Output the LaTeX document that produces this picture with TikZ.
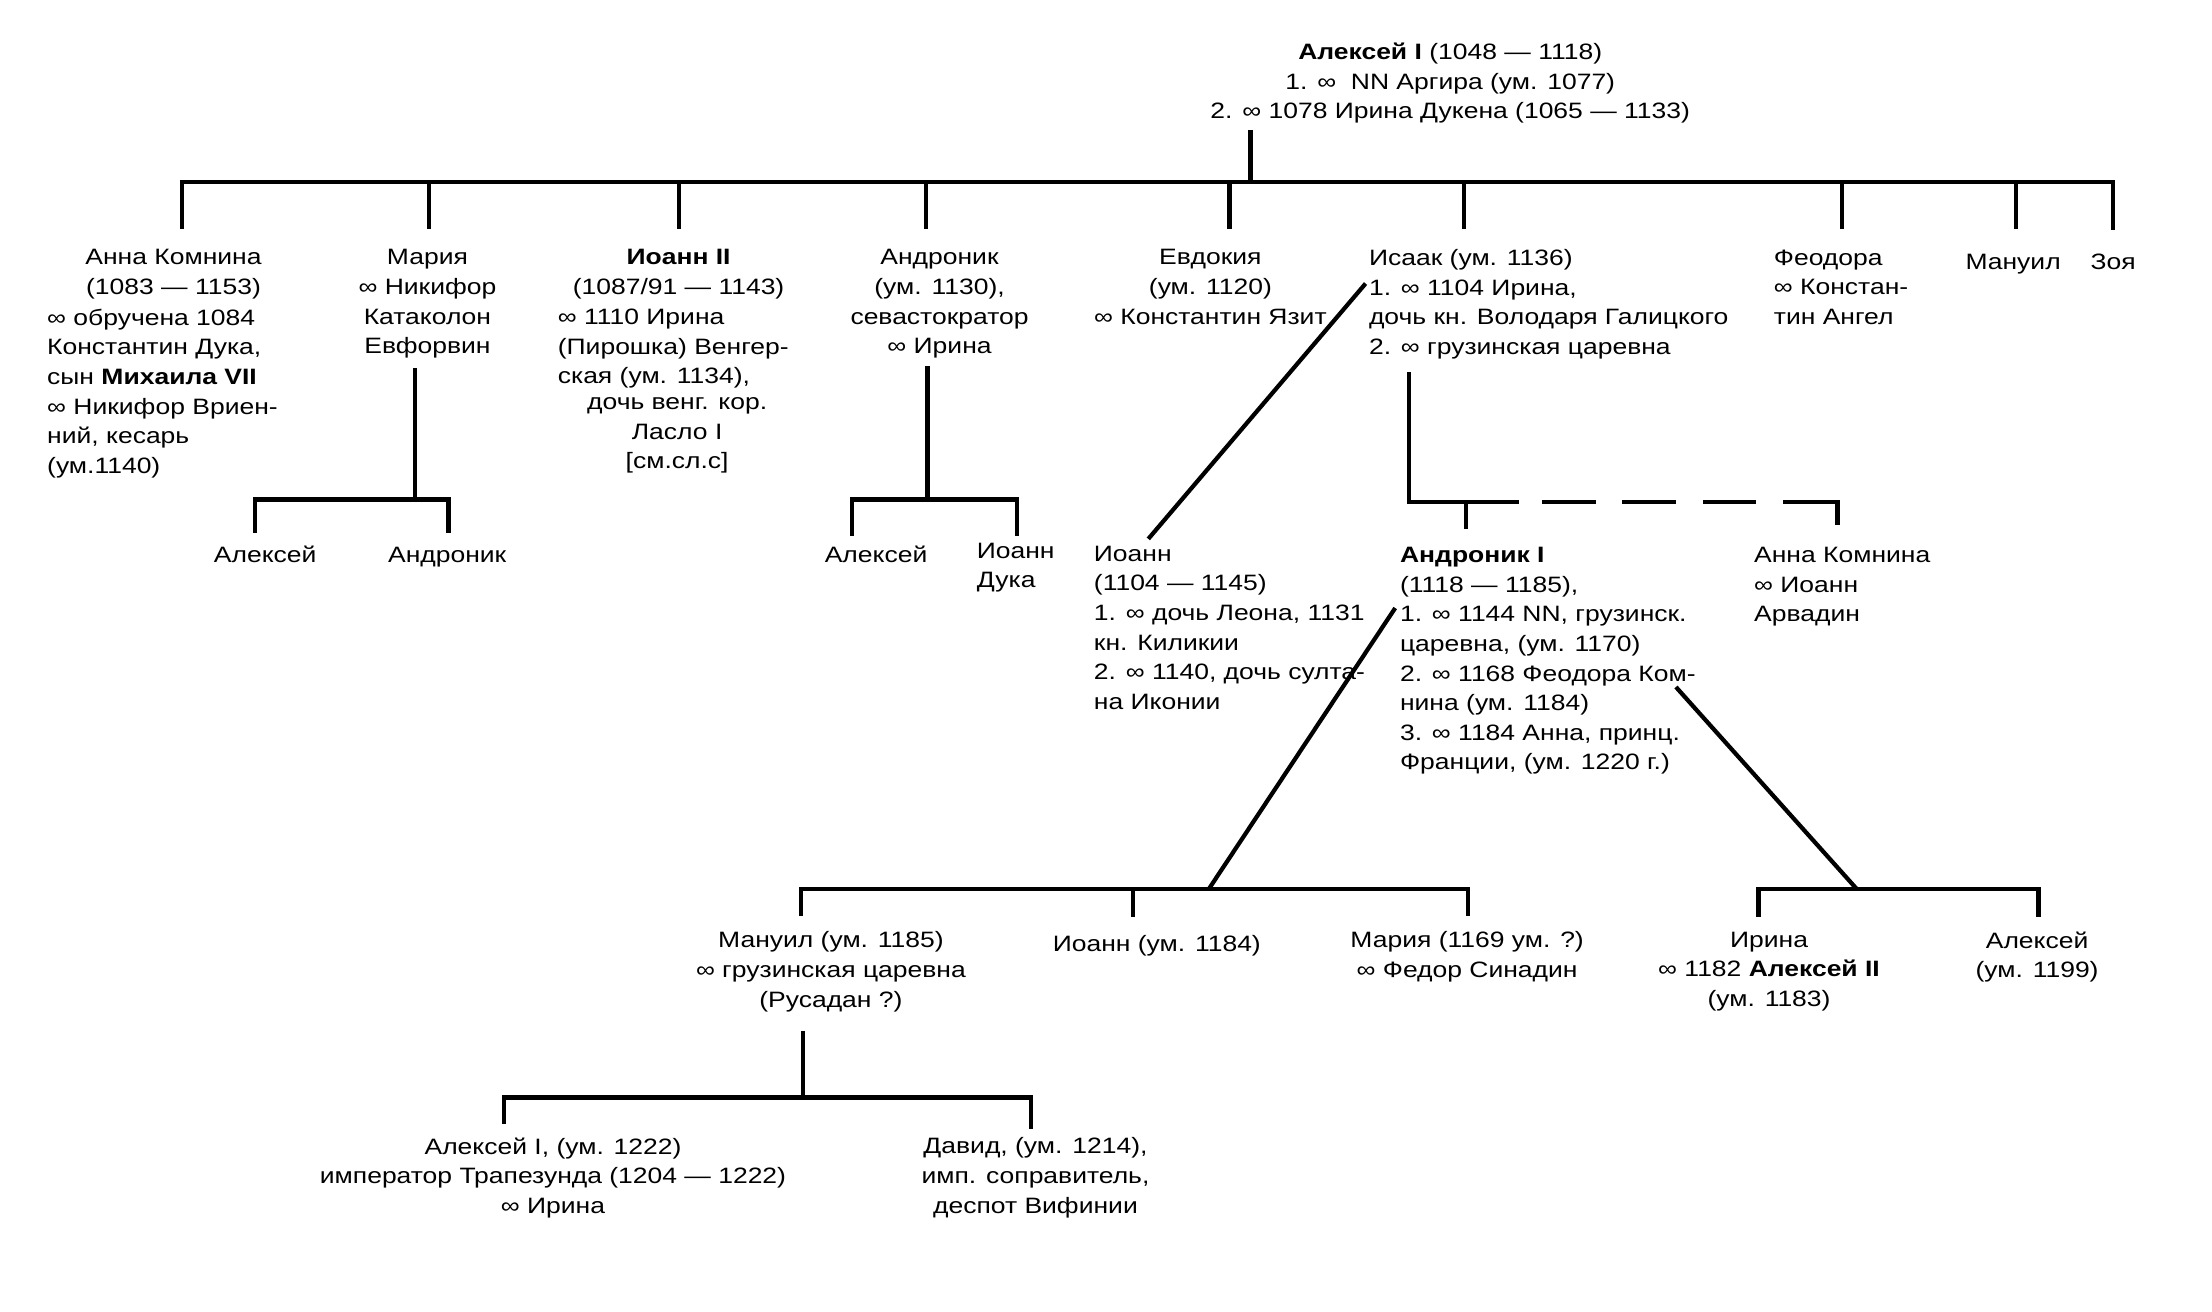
\documentclass[tikz,border=0pt]{standalone}
\usepackage{fontspec}
\setmainfont{Liberation Sans}[FakeStretch=1.19]
\tikzset{
  lbl/.style={inner sep=0pt, font=\fontsize{7.1pt}{9.45pt}\selectfont,
    execute at begin node={\rule{0pt}{6.3pt}}},
  cbox/.style={lbl, anchor=north, align=center},
  lbox/.style={lbl, anchor=north west, align=left},
  tree/.style={line width=1.35pt, line join=miter, line cap=butt},
  dashtree/.style={tree, dash pattern=on 17.1pt off 8.55pt},
}
\begin{document}
\begin{tikzpicture}[x=0.45pt,y=-0.45pt]
\fill[white] (0,0) rectangle (1568,930);
\useasboundingbox (0,0) rectangle (1568,930);

% ---------- texts ----------
\node[cbox] (root) at (1028,30) {\textbf{Алексей I} (1048 — 1118)\\1. ∞\ \ NN Аргира (ум. 1077)\\2. ∞ 1078 Ирина Дукена (1065 — 1133)};

\node[cbox] (anna) at (123,176.5) {Анна Комнина\\(1083 — 1153)};
\node[lbox] (annab) at (33,218.5) {∞ обручена 1084\\Константин Дука,\\сын \textbf{Михаила VII}\\∞ Никифор Вриен-\\ний, кесарь\\(ум.1140)};
\node[cbox] (maria) at (303,176.5) {Мария\\∞ Никифор\\Катаколон\\Евфорвин};
\node[cbox] (ioann2) at (481,176.5) {\textbf{Иоанн II}\\(1087/91 — 1143)};
\node[lbox] (ioann2b) at (395,218.5) {∞ 1110 Ирина\\(Пирошка) Венгер-\\ская (ум. 1134),};
\node[cbox] (ioann2c) at (480,281.5) {дочь венг. кор.\\Ласло I\\{[}см.сл.с{]}};
\node[cbox] (andr) at (666,176.5) {Андроник\\(ум. 1130),\\севастократор\\∞ Ирина};
\node[cbox] (evd) at (858,176.5) {Евдокия\\(ум. 1120)\\∞ Константин Язит};
\node[lbox] (isaak) at (970,176.5) {Исаак (ум. 1136)\\1. ∞ 1104 Ирина,\\дочь кн. Володаря Галицкого\\2. ∞ грузинская царевна};
\node[lbox] (feod) at (1257,176.5) {Феодора\\∞ Констан-\\тин Ангел};
\node[cbox] (manuil) at (1427,176.5) {Мануил};
\node[cbox] (zoya) at (1498,176.5) {Зоя};

\node[cbox] (malex) at (188,384.5) {Алексей};
\node[cbox] (mandr) at (317,384.5) {Андроник};
\node[cbox] (aalex) at (621,384.5) {Алексей};
\node[lbox] (aioann) at (692,384.5) {Иоанн\\Дука};
\node[lbox] (iioann) at (775,386.5) {Иоанн\\(1104 — 1145)\\1. ∞ дочь Леона, 1131\\кн. Киликии\\2. ∞ 1140, дочь султа-\\на Иконии};
\node[lbox] (andr1) at (992,387.5) {\textbf{Андроник I}\\(1118 — 1185),\\1. ∞ 1144 NN, грузинск.\\царевна, (ум. 1170)\\2. ∞ 1168 Феодора Ком-\\нина (ум. 1184)\\3. ∞ 1184 Анна, принц.\\Франции, (ум. 1220 г.)};
\node[lbox] (anna2) at (1243,387.5) {Анна Комнина\\∞ Иоанн\\Арвадин};

\node[cbox] (manuil2) at (589,660) {Мануил (ум. 1185)\\∞ грузинская царевна\\(Русадан ?)};
\node[cbox] (ioann3) at (820,660) {Иоанн (ум. 1184)};
\node[cbox] (maria3) at (1040,660) {Мария (1169 ум. ?)\\∞ Федор Синадин};
\node[cbox] (irina) at (1254,660) {Ирина\\∞ 1182 \textbf{Алексей II}\\(ум. 1183)};
\node[cbox] (alex3) at (1444,660) {Алексей\\(ум. 1199)};

\node[cbox] (alex4) at (392,806) {Алексей I, (ум. 1222)\\император Трапезунда (1204 — 1222)\\∞ Ирина};
\node[cbox] (david) at (734,806) {Давид, (ум. 1214),\\имп. соправитель,\\деспот Вифинии};

% ---------- junction coordinates ----------
\coordinate (r0) at (886.5,92);
\coordinate (r1) at (886.5,129);
\coordinate (tbL) at (129,129);
\coordinate (tbR) at (1498,129);
\coordinate (dA) at (129,162);
\coordinate (dZ) at (1498,163);

% ---------- level 1 ----------
\draw[tree] (r0) -- (r1);
\draw[tree] (dA) -- (tbL) -- (tbR) -- (dZ);
\foreach \n/\x in {maria/304, ioann2/481.5, andr/656.5, evd/871.5, isaak/1038, feod/1305.5, manuil/1429} {
  \coordinate (t\n) at (\x,129);
  \coordinate (d\n) at (\x,162);
  \draw[tree] (t\n) -- (d\n);
}

% ---------- Maria's children ----------
\coordinate (m0) at (294,261);
\coordinate (m1) at (294,354);
\draw[tree] (m0) -- (m1);
\coordinate (mL) at (181,378);
\coordinate (mR) at (318,378);
\draw[tree] (mL) -- (181,354) -- (318,354) -- (mR);

% ---------- Andronik's children ----------
\coordinate (a0) at (657.5,259.5);
\coordinate (a1) at (657.5,354);
\draw[tree] (a0) -- (a1);
\coordinate (aL) at (604,380);
\coordinate (aR) at (721,380);
\draw[tree] (aL) -- (604,354) -- (721,354) -- (aR);

% ---------- Isaak's children ----------
\coordinate (i0) at (968,201);
\coordinate (i1) at (814,382);
\draw[tree] (i0) -- (i1);
\coordinate (j0) at (999,264);
\coordinate (j1) at (999,356);
\coordinate (j2) at (1077,356);
\draw[tree] (j0) -- (j1) -- (j2);
\coordinate (jA) at (1039,356);
\coordinate (jAd) at (1039,375);
\draw[tree] (jA) -- (jAd);
\coordinate (k0) at (1093,356);
\coordinate (k1) at (1245.5,356);
\draw[dashtree] (k0) -- (k1);
\coordinate (k2) at (1264,356);
\coordinate (k3) at (1302.5,372);
\draw[tree] (k2) -- (1302.5,356) -- (k3);

% ---------- Andronik I's children ----------
\coordinate (b0) at (989,431);
\coordinate (b1) at (857,630);
\draw[tree] (b0) -- (b1);
\coordinate (c0) at (1188,487);
\coordinate (c1) at (1316,630);
\draw[tree] (c0) -- (c1);
\coordinate (bL) at (568,649);
\coordinate (bR) at (1040.5,649);
\draw[tree] (bL) -- (568,630) -- (1040.5,630) -- (bR);
\coordinate (bM0) at (803,630);
\coordinate (bM1) at (803,650);
\draw[tree] (bM0) -- (bM1);
\coordinate (cL) at (1246.5,650);
\coordinate (cR) at (1445,650);
\draw[tree] (cL) -- (1246.5,630) -- (1445,630) -- (cR);

% ---------- Manuil's children ----------
\coordinate (e0) at (569,730.5);
\coordinate (e1) at (569,778);
\draw[tree] (e0) -- (e1);
\coordinate (eL) at (357.5,797);
\coordinate (eR) at (731,800);
\draw[tree] (eL) -- (357.5,778) -- (731,778) -- (eR);
\end{tikzpicture}
\end{document}
